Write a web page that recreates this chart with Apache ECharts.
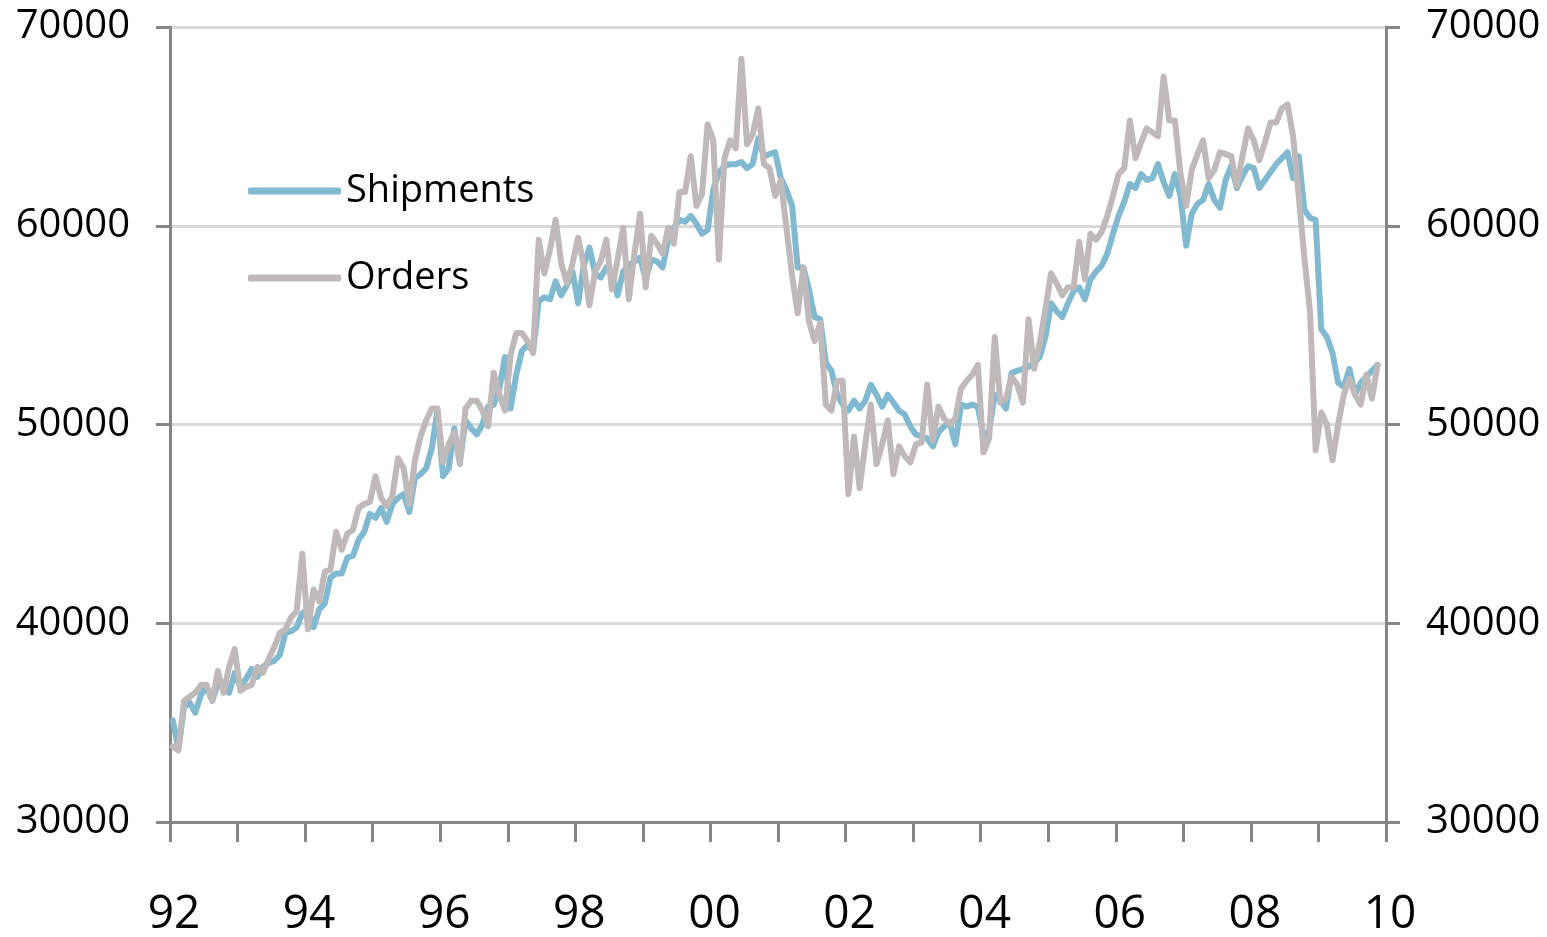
<!DOCTYPE html>
<html>
<head>
<meta charset="utf-8">
<script src="https://cdn.jsdelivr.net/npm/echarts@6/dist/echarts.min.js"></script>
<style>
  html, body { margin: 0; padding: 0; background: #ffffff; }
  #chart { width: 1547px; height: 937px; }
</style>
</head>
<body>
<div id="chart"></div>
<script>
// Monthly series, Jan 1992 .. Nov 2009 (one row per year)
const startYear = 1992;

const shipments = [
  35100, 33700, 35800, 36000, 35500, 36400, 36800, 36100, 37000, 36700, 36500, 37500, // 92
  36800, 37200, 37700, 37300, 37800, 38000, 38100, 38400, 39500, 39600, 39800, 40500, // 93
  40700, 39800, 40700, 41000, 42300, 42500, 42500, 43300, 43400, 44200, 44600, 45500, // 94
  45300, 45800, 45100, 46000, 46300, 46500, 45600, 47300, 47500, 47800, 48800, 50700, // 95
  47400, 47800, 49800, 48200, 50200, 49800, 49500, 50000, 50900, 51000, 51800, 53400, // 96
  50800, 52500, 53700, 54000, 53700, 56200, 56400, 56300, 57200, 56500, 57000, 57700, // 97
  56100, 58000, 58900, 57600, 57400, 57900, 57500, 56500, 57700, 58000, 58200, 58400, // 98
  57300, 58300, 58200, 57900, 59300, 59900, 60300, 60200, 60500, 60100, 59600, 59800, // 99
  61800, 62700, 63000, 63100, 63100, 63200, 62900, 63100, 64400, 63500, 63600, 63700, // 00
  62400, 61800, 61000, 57900, 57900, 56800, 55400, 55300, 53100, 52700, 51500, 51000, // 01
  50700, 51200, 50800, 51200, 52000, 51500, 50900, 51500, 51100, 50700, 50500, 49900, // 02
  49500, 49400, 49300, 48900, 49600, 49900, 50100, 49000, 51000, 50900, 51000, 50900, // 03
  49400, 49700, 51500, 51200, 50800, 52600, 52700, 52800, 52900, 53100, 53400, 54400, // 04
  56100, 55700, 55400, 56100, 56700, 56900, 56300, 57300, 57700, 58000, 58600, 59600, // 05
  60500, 61200, 62100, 61900, 62600, 62300, 62400, 63100, 62200, 61500, 62600, 61500, // 06
  59000, 60600, 61100, 61300, 62100, 61300, 60900, 62300, 63000, 61900, 62500, 63000, // 07
  62900, 61900, 62300, 62700, 63100, 63400, 63700, 62400, 63500, 60800, 60400, 60300, // 08
  54800, 54400, 53600, 52100, 51900, 52800, 51500, 52100, 52400, 52700, 53000        // 09
];

const orders = [
  33800, 33600, 36100, 36300, 36500, 36900, 36900, 36100, 37600, 36500, 37800, 38700, // 92
  36600, 36800, 36900, 37800, 37500, 38200, 38800, 39500, 39700, 40300, 40600, 43500, // 93
  39700, 41700, 41100, 42600, 42700, 44600, 43700, 44500, 44700, 45800, 46000, 46100, // 94
  47400, 46300, 45900, 46400, 48300, 47800, 46000, 48200, 49400, 50200, 50800, 50800, // 95
  48100, 49000, 49600, 48000, 50800, 51200, 51200, 50700, 49900, 52600, 51500, 50700, // 96
  53500, 54600, 54600, 54200, 53600, 59300, 57600, 58800, 60300, 58100, 57100, 58100, // 97
  59400, 58000, 56000, 57700, 58200, 59300, 56800, 58300, 59900, 56300, 58600, 60600, // 98
  56900, 59500, 59100, 58600, 59900, 59100, 61700, 61700, 63500, 61000, 61600, 65100, // 99
  64300, 58300, 63400, 64300, 63900, 68400, 64100, 64600, 65900, 63100, 62900, 61500, // 00
  62300, 59900, 57500, 55600, 57900, 55200, 54200, 55100, 51000, 50700, 52200, 52200, // 01
  46500, 49400, 46800, 49000, 51000, 48000, 49000, 50200, 47500, 48900, 48400, 48100, // 02
  49000, 49100, 52000, 49200, 50900, 50300, 50000, 50300, 51800, 52200, 52500, 53000, // 03
  48600, 49300, 54400, 51100, 51300, 52400, 52000, 51100, 55300, 52800, 54100, 55800, // 04
  57600, 57100, 56500, 56900, 56900, 59200, 57300, 59600, 59300, 59700, 60500, 61500, // 05
  62600, 62900, 65300, 63400, 64200, 64900, 64700, 64500, 67500, 65300, 65300, 62600, // 06
  61000, 62800, 63600, 64300, 62400, 62800, 63700, 63600, 63500, 62000, 63500, 64900, // 07
  64300, 63300, 64200, 65200, 65200, 65900, 66100, 64500, 61500, 58400, 55700, 48700, // 08
  50600, 50000, 48200, 50000, 51500, 52300, 51500, 51000, 52500, 51300, 53000        // 09
];

const seriesNames = ['Shipments', 'Orders'];
const seriesColors = ['#80b9d0', '#bfb9b9'];
const yTicks = [30000, 40000, 50000, 60000, 70000];

const AXIS_COLOR = '#868686';
const GRID_COLOR = '#d9d9d9';
const FONT = '"Open Sans", "Liberation Sans", sans-serif';

function toPoints(values) {
  // place each month at the middle of its slot on the year axis
  return values.map((v, i) => [startYear + (i + 0.5) / 12, v]);
}

function yAxisFor(position, showSplit) {
  return {
    type: 'value',
    position: position,
    min: yTicks[0],
    max: yTicks[yTicks.length - 1],
    interval: yTicks[1] - yTicks[0],
    axisLine: { show: true, lineStyle: { color: AXIS_COLOR, width: 3 } },
    axisTick: { show: true, length: 14, lineStyle: { color: AXIS_COLOR, width: 3 } },
    axisLabel: {
      color: '#000', fontSize: 40, fontFamily: FONT, margin: 40,
      formatter: (v) => String(v)
    },
    splitLine: { show: showSplit, lineStyle: { color: GRID_COLOR, width: 3 } }
  };
}

const chart = echarts.init(document.getElementById('chart'), null, { renderer: 'canvas' });

chart.setOption({
  animation: false,
  backgroundColor: '#ffffff',
  grid: { left: 170, right: 161, top: 27, bottom: 115, outerBoundsMode: 'none' },
  legend: {
    orient: 'vertical',
    left: 243,
    top: 164,
    itemWidth: 93,
    itemHeight: 7,
    itemGap: 43,
    icon: 'roundRect',
    textStyle: { color: '#000', fontSize: 38, fontFamily: FONT, lineHeight: 44 },
    data: seriesNames
  },
  xAxis: {
    type: 'value',
    min: 1992,
    max: 2010,
    interval: 1,
    axisLine: { show: true, onZero: false, lineStyle: { color: AXIS_COLOR, width: 3 } },
    axisTick: { show: true, length: 20, lineStyle: { color: AXIS_COLOR, width: 3 } },
    axisLabel: {
      color: '#000',
      fontSize: 46,
      fontFamily: FONT,
      margin: 70,
      padding: [0, 0, 0, 8],
      showMinLabel: true,
      showMaxLabel: true,
      formatter: (v) => (v % 2 === 0 ? String(v).slice(2) : '')
    },
    splitLine: { show: false }
  },
  yAxis: [yAxisFor('left', true), yAxisFor('right', false)],
  series: [
    {
      name: seriesNames[0],
      type: 'line',
      data: toPoints(shipments),
      color: seriesColors[0],
      showSymbol: false,
      lineStyle: { color: seriesColors[0], width: 6, cap: 'round', join: 'round' }
    },
    {
      name: seriesNames[1],
      type: 'line',
      data: toPoints(orders),
      color: seriesColors[1],
      showSymbol: false,
      lineStyle: { color: seriesColors[1], width: 6, cap: 'round', join: 'round' }
    }
  ]
});
</script>
</body>
</html>
